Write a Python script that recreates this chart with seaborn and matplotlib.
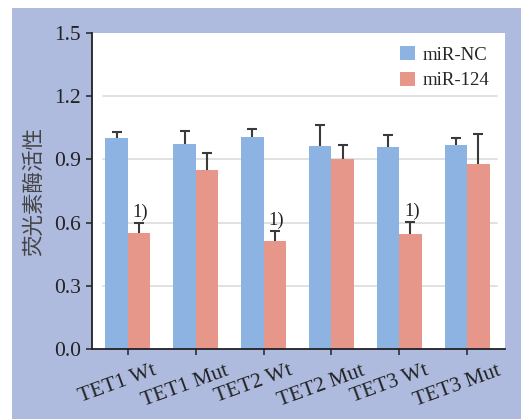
import numpy as np
import pandas as pd
import matplotlib
matplotlib.use("Agg")
import matplotlib.pyplot as plt
from matplotlib.patches import Rectangle
from matplotlib.transforms import ScaledTranslation
import seaborn as sns

# Relative luciferase activity per construct
constructs = ["TET1 Wt", "TET1 Mut", "TET2 Wt", "TET2 Mut", "TET3 Wt", "TET3 Mut"]
groups = ["miR-NC", "miR-124"]
mir_nc = [1.00, 0.975, 1.005, 0.965, 0.96, 0.97]
mir_124 = [0.55, 0.85, 0.515, 0.90, 0.545, 0.88]
err_nc = [0.03, 0.06, 0.04, 0.10, 0.055, 0.03]
err_124 = [0.05, 0.08, 0.045, 0.07, 0.06, 0.14]
sig_marks = ["1)", "", "1)", "", "1)", ""]
y_ticks = [0.0, 0.3, 0.6, 0.9, 1.2, 1.5]

colors = ["#8db3e2", "#e6978a"]
panel_color = "#aebbde"
serif = ["Liberation Serif", "DejaVu Serif"]

df = pd.DataFrame({
    "construct": constructs * 2,
    "group": [groups[0]] * len(constructs) + [groups[1]] * len(constructs),
    "value": mir_nc + mir_124,
})

sns.set_style("white")
plt.rcParams["font.family"] = serif

fig = plt.figure(figsize=(5.21, 4.19), dpi=100)
fig.patch.set_facecolor("white")
fig.patches.append(Rectangle((12 / 521, 0), 1 - 12 / 521, 1 - 8 / 419,
                             transform=fig.transFigure, facecolor=panel_color,
                             edgecolor="none", zorder=-5))

ax = fig.add_axes([92 / 521, 1 - 349 / 419, 413 / 521, 316 / 419])
ax.set_zorder(1)
ax.set_facecolor("white")

sns.barplot(data=df, x="construct", y="value", hue="group", order=constructs,
            hue_order=groups, palette=colors, width=0.664, errorbar=None,
            saturation=1, linewidth=0, edgecolor="none", ax=ax, zorder=2)

# upper-only error bars and significance marks
for i, (container, errs) in enumerate(zip(ax.containers, [err_nc, err_124])):
    xs = [b.get_x() + b.get_width() / 2 for b in container]
    hs = [b.get_height() for b in container]
    eb = ax.errorbar(xs, hs, yerr=[np.zeros(len(errs)), errs], fmt="none",
                     ecolor="#3a3a3a", elinewidth=1.5, capsize=3.3, capthick=1.5,
                     zorder=3)
    eb[1][0].set_visible(False)  # drop the lower caps
    if i == 1:
        for x, h, e, m in zip(xs, hs, errs, sig_marks):
            if m:
                ax.text(x + 0.02, h + e + 0.008, m, ha="center", va="bottom",
                        fontsize=13.5, color="#222222", family=serif)

# horizontal guides
for t in y_ticks[1:-1]:
    ax.axhline(t, xmin=0.027, xmax=0.98, color="#dcdcdc", lw=1.2, zorder=1)

ax.set_ylim(0, 1.5)
ax.set_xlim(-0.53, 5.56)
ax.set_yticks(y_ticks)
ax.set_yticklabels([f"{t:.1f}" for t in y_ticks])
ax.set_xlabel("")
ax.set_ylabel("荧光素酶活性", family=["Noto Sans CJK SC", "DejaVu Sans"],
              fontsize=15.5, color="#444444", labelpad=6)

for s in ["top", "right"]:
    ax.spines[s].set_visible(False)
for s in ["left", "bottom"]:
    ax.spines[s].set_color("#222222")
    ax.spines[s].set_linewidth(1.3)

ax.tick_params(axis="both", direction="out", length=4, width=1.1, color="#222222",
               labelcolor="#222222", labelsize=15.5, left=True, bottom=True)
ax.tick_params(axis="y", pad=4)
ax.tick_params(axis="x", pad=5)

shift = ScaledTranslation(-10 / 100, 0, fig.dpi_scale_trans)
for lbl in ax.get_xticklabels():
    lbl.set_rotation(20)
    lbl.set_ha("center")
    lbl.set_transform(lbl.get_transform() + shift)

handles, labels = ax.get_legend_handles_labels()
ax.legend(handles, labels, loc="upper right", frameon=False, fontsize=13.5,
          handlelength=0.8, handleheight=0.75, handletextpad=0.45,
          labelspacing=0.45, borderaxespad=0.3, bbox_to_anchor=(0.995, 1.0))

fig.savefig("out.png", dpi=100, facecolor=fig.get_facecolor())
